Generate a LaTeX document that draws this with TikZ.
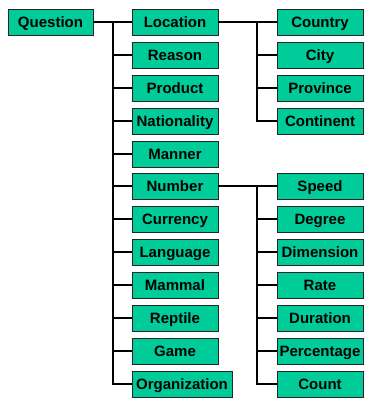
\documentclass[tikz,border=0pt]{standalone}
\usepackage{fontspec}
\setmainfont{Liberation Sans}
\usetikzlibrary{shadows}
\definecolor{boxgreen}{HTML}{00CC99}
\begin{document}
\begin{tikzpicture}[x=1pt,y=1pt,
  cat/.style={rectangle, fill=boxgreen, draw=black!85, line width=0.9pt,
    minimum width=86, minimum height=26, inner xsep=0pt, inner ysep=0pt,
    text height=11pt, text depth=0pt,
    font=\fontsize{15}{18}\selectfont\bfseries,
    drop shadow={shadow xshift=1.2pt, shadow yshift=-1.2pt, fill=black!35, opacity=0.6}},
  link/.style={line width=1.6pt, black}]
\useasboundingbox (0,0) rectangle (374,-401);

% root
\node[cat, minimum width=85] (question) at (50.5,-22) {Question};

% first level
\node[cat] (location)    at (175,-22)  {Location};
\node[cat] (reason)      at (175,-55)  {Reason};
\node[cat] (product)     at (175,-88)  {Product};
\node[cat] (nationality) at (175,-121) {Nationality};
\node[cat] (manner)      at (175,-154) {Manner};
\node[cat] (number)      at (175,-186) {Number};
\node[cat] (currency)    at (175,-219) {Currency};
\node[cat] (language)    at (175,-252) {Language};
\node[cat] (mammal)      at (175,-285) {Mammal};
\node[cat] (reptile)     at (175,-318) {Reptile};
\node[cat] (game)        at (175,-351) {Game};
\node[cat, minimum width=100] (organization) at (182,-384) {Organization};

% location subtypes
\node[cat] (country)   at (320,-22)  {Country};
\node[cat] (city)      at (320,-55)  {City};
\node[cat] (province)  at (320,-88)  {Province};
\node[cat] (continent) at (320,-121) {Continent};

% number subtypes
\node[cat] (speed)      at (320,-186) {Speed};
\node[cat] (degree)     at (320,-219) {Degree};
\node[cat] (dimension)  at (320,-252) {Dimension};
\node[cat] (rate)       at (320,-285) {Rate};
\node[cat] (duration)   at (320,-318) {Duration};
\node[cat] (percentage) at (320,-351) {Percentage};
\node[cat] (count)      at (320,-384) {Count};

% trunks
\coordinate (qtrunk) at (113,-22);
\coordinate (ltrunk) at (257,-22);
\coordinate (ntrunk) at (257,-186);

\draw[link] (question) -- (location);
\foreach \c in {reason,product,nationality,manner,number,currency,language,mammal,reptile,game,organization}
  \draw[link] (qtrunk) |- (\c.west);

\draw[link] (location) -- (country);
\foreach \c in {city,province,continent}
  \draw[link] (ltrunk) |- (\c.west);

\draw[link] (number) -- (speed);
\foreach \c in {degree,dimension,rate,duration,percentage,count}
  \draw[link] (ntrunk) |- (\c.west);
\end{tikzpicture}
\end{document}
